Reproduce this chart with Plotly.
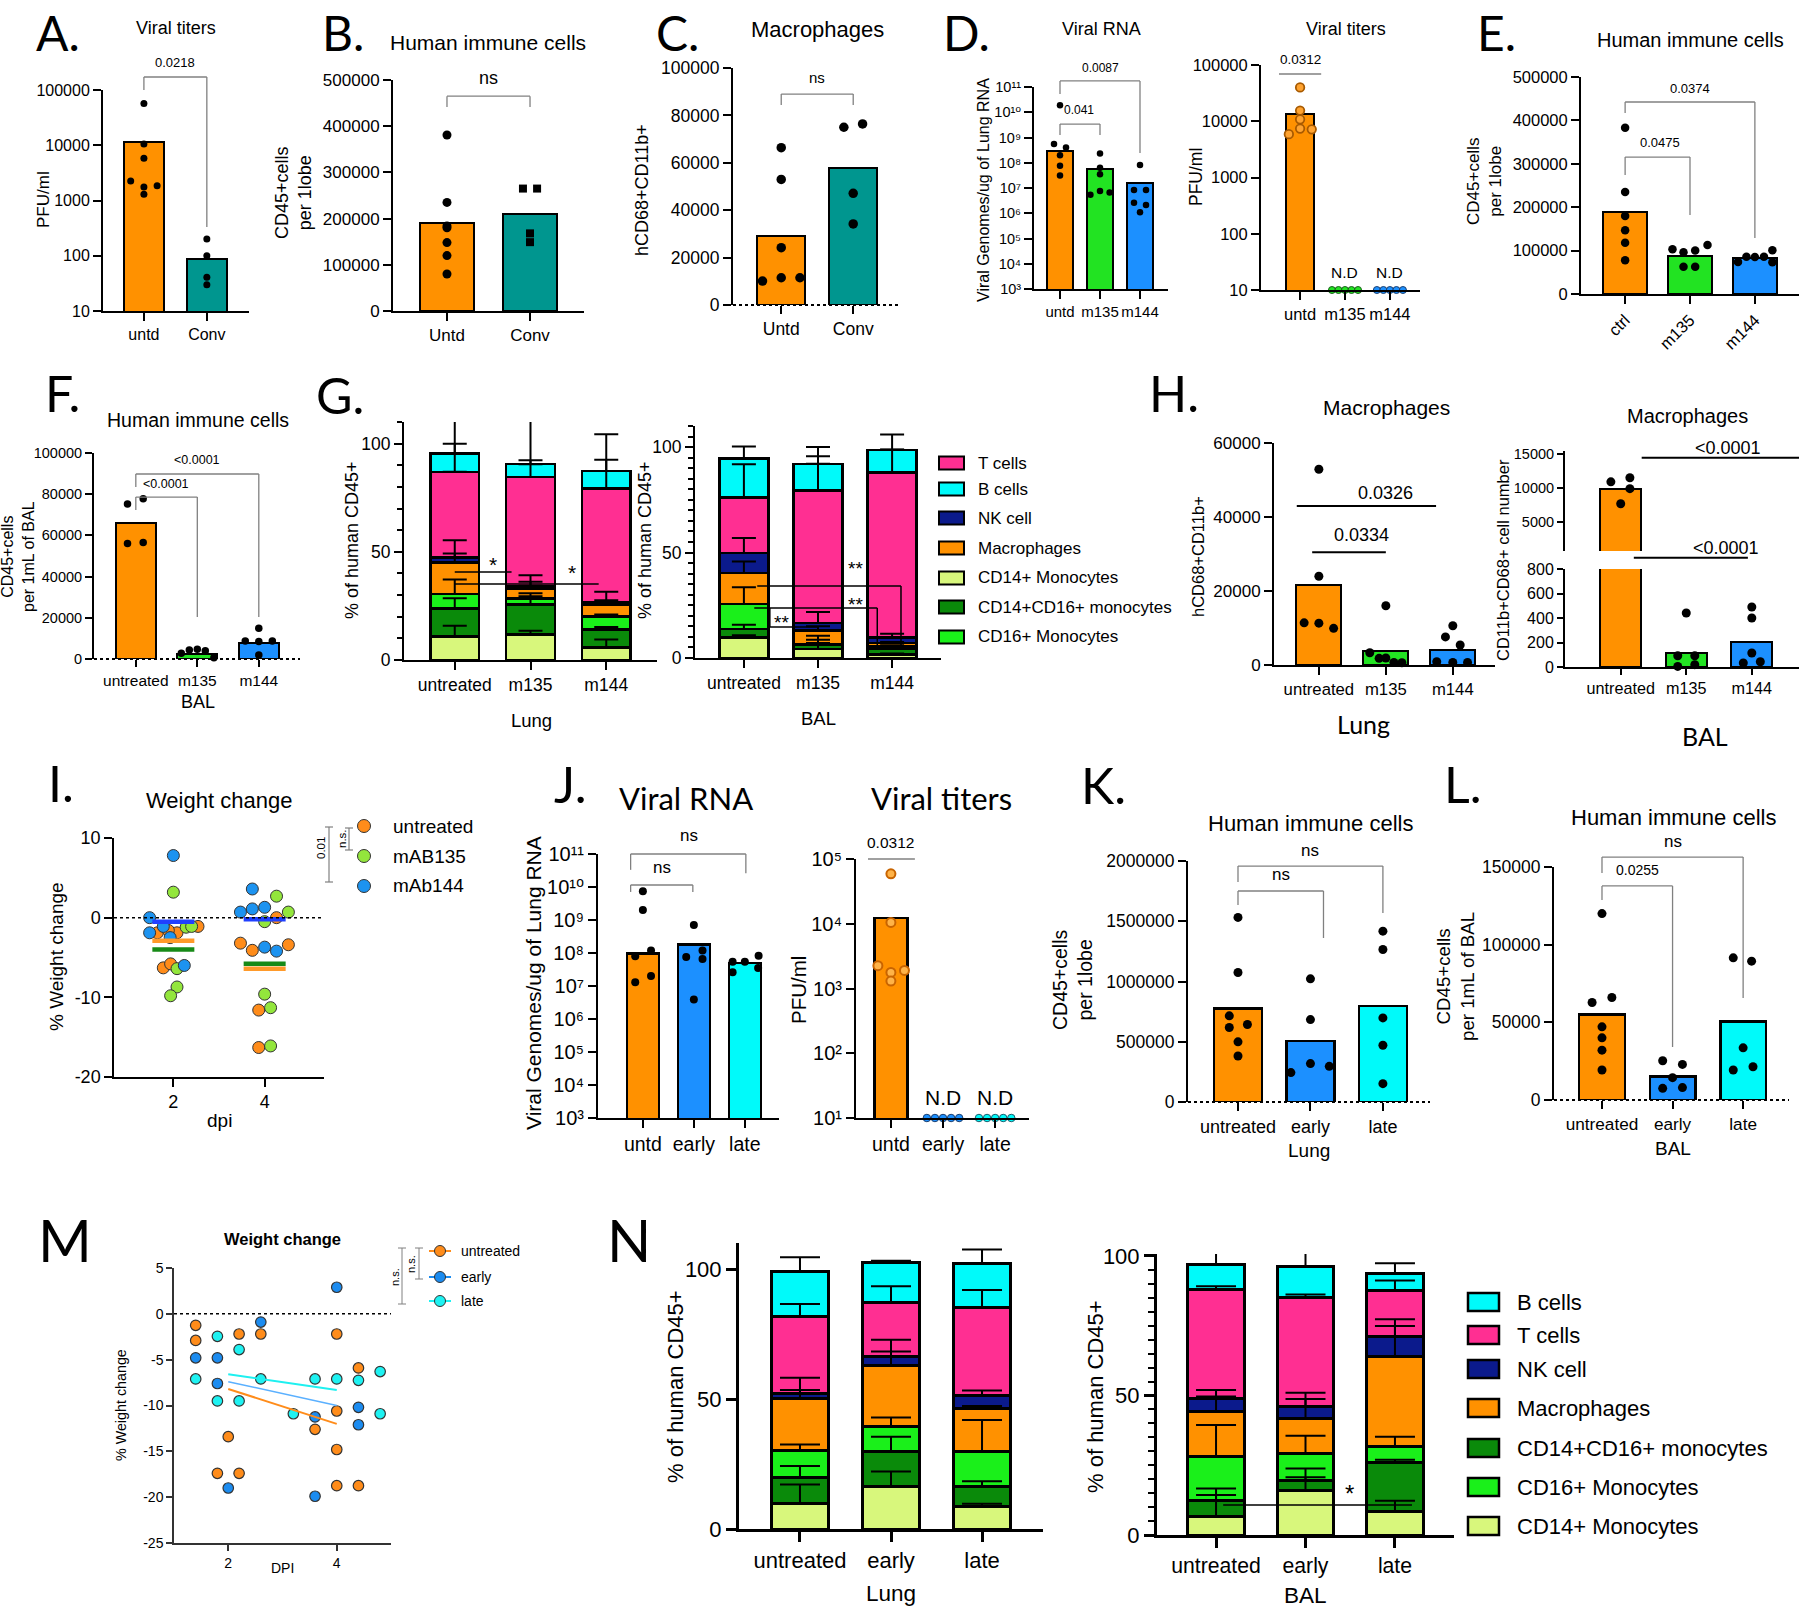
import numpy as np
import plotly.graph_objects as go

W, H = 1800, 1607
ARIAL = "Liberation Sans, Arial, DejaVu Sans, sans-serif"
CAL = "Lato, Open Sans, sans-serif"

ORANGE = "#FF9100"; TEAL = "#00968F"; GREEN = "#22E322"; BLUE = "#1C90FF"; CYAN = "#00FAFA"
PINK = "#FF2F92"; NAVY = "#0B1A8C"; DKGREEN = "#0A8A0A"; LTGREEN = "#D8F77C"; BRGREEN = "#1AF01A"
GRAY = "#808080"
CELL_NAMES = ["CD14+ Monocytes", "CD14+CD16+ monocytes", "CD16+ Monocytes", "Macrophages", "NK cell", "T cells", "B cells"]
CELL_COLORS = [LTGREEN, DKGREEN, BRGREEN, ORANGE, NAVY, PINK, CYAN]

# ---------------- data ----------------
A_cats = ["untd", "Conv"]
A_bar = [11300, 89]
A_untd = [57000, 10500, 5800, 2250, 1750, 1850, 1300]
A_conv = [200, 100, 41, 30]

B_cats = ["Untd", "Conv"]
B_bar = [190000, 209000]
B_untd = [381000, 235000, 184000, 180000, 148000, 120000, 80000]
B_conv = [265000, 265000, 168000, 149000]

C_cats = ["Untd", "Conv"]
C_bar = [29100, 57700]
C_untd = [66400, 53000, 24200, 10100, 11500, 11500]
C_conv = [75000, 76400, 47100, 34200]

D_cats = ["untd", "m135", "m144"]
D_rna_bar = [2.8e8, 5.5e7, 1.6e7]
D_rna_untd = [1.9e10, 5.5e8, 4e8, 2e8, 7.6e7, 3.1e7]
D_rna_m135 = [2.3e8, 6.3e7, 3.5e7, 5.4e6, 7.6e6, 6.6e6]
D_rna_m144 = [8.1e7, 8.3e6, 8.3e6, 2.6e6, 2.1e6, 1.1e6]
D_tit_bar = [13500, None, None]
D_tit_untd = [40000, 15500, 10800, 5900, 7400, 7200]
D_tit_m135 = [10, 10, 10, 10, 10]
D_tit_m144 = [10, 10, 10, 10, 10]

E_cats = ["ctrl", "m135", "m144"]
E_bar = [189000, 87500, 82000]
E_ctrl = [383000, 235000, 180000, 147000, 118000, 78000]
E_m135 = [103000, 96000, 100000, 113000, 63000, 63000]
E_m144 = [74000, 86000, 85000, 86000, 101000, 73000]

F_cats = ["untreated", "m135", "m144"]
F_bar = [66200, 2400, 7900]
F_untr = [75200, 77800, 56100, 56500]
F_m135 = [2750, 4400, 4700, 4000, 650]
F_m144 = [14900, 8700, 8500, 8700, 1900]

G_cats = ["untreated", "m135", "m144"]
# rows: CD14+, CD14+CD16+, CD16+, Macrophages, NK, T, B ; cols: untreated, m135, m144
G_lung_pct = [[10.8, 11.8, 5.8], [13.0, 13.9, 8.4], [6.7, 2.8, 5.8], [14.5, 4.5, 5.4],
              [2.4, 1.3, 1.2], [39.6, 50.3, 52.6], [8.4, 5.9, 8.2]]
G_lung_sd = [[5.0, 1.7, 3.7], [4.7, 5.1, 1.0], [6.7, 1.0, 1.0], [10.4, 3.2, 6.1],
             [1.8, 4.9, 1.0], [13.0, 7.7, 13.4], [16.0, 20.0, 16.9]]
G_bal_pct = [[9.8, 4.3, 1.6], [3.9, 2.0, 2.7], [11.9, 0.3, 1.2], [14.7, 6.5, 1.6],
             [9.5, 3.5, 2.7], [26.3, 62.9, 78.2], [18.4, 12.6, 10.7]]
G_bal_sd = [[1.0, 6.3, 0.5], [2.1, 2.4, 0.5], [7.9, 0.5, 0.5], [5.5, 2.0, 0.5],
            [7.1, 5.2, 1.7], [15.8, 16.1, 10.8], [5.8, 7.9, 7.3]]

H_cats = ["untreated", "m135", "m144"]
H_lung_bar = [21600, 3900, 4050]
H_lung_untr = [52900, 24000, 11400, 11300, 9900]
H_lung_m135 = [16000, 3300, 1800, 1900, 700, 600]
H_lung_m144 = [10600, 7600, 5400, 900, 700, 700]
H_bal_bar = [9900, 114, 204]
H_bal_untr = [10900, 11500, 9900, 7700]
H_bal_m135 = [441, 92, 92, 5, 19]
H_bal_m144 = [490, 400, 114, 33, 43]

I_dpi = [2, 2, 2, 2, 2, 2, 4, 4, 4, 4, 4, 4]
I_untr_wt = [-1.9, -1.9, -1.6, -1.1, -6.3, -5.8, 0.0, -3.2, -4.1, -3.4, -11.6, -16.3]
I_135_wt = [3.2, -1.2, -1.1, -6.4, -8.7, -9.8, 2.7, 0.7, -0.5, -9.6, -11.3, -16.1]
I_144_wt = [0.0, 7.8, -1.9, -1.1, -2.5, -6.0, 3.6, 0.7, 1.1, 1.3, -3.7, -4.2]
I_mean_dpi = [2, 4]
I_mean_untr = [-2.9, -6.4]
I_mean_135 = [-4.0, -5.8]
I_mean_144 = [-0.5, -0.2]

J_cats = ["untd", "early", "late"]
J_rna_bar = [9.5e7, 1.8e8, 5e7]
J_rna_untd = [7.4e9, 2e9, 1.2e8, 8e7, 2e7, 1.3e7]
J_rna_early = [7e8, 1.2e8, 7.6e7, 6.6e7, 3.9e6]
J_rna_late = [5.4e7, 5.4e7, 8.3e7, 2.6e7, 3.5e7]
J_tit_bar = [12200, None, None]
J_tit_untd = [59000, 10500, 2250, 1770, 1900, 1300]
J_tit_early = [10, 10, 10, 10, 10]
J_tit_late = [10, 10, 10, 10, 10]

K_cats = ["untreated", "early", "late"]
K_bar = [776000, 507000, 795000]
K_untr = [1532000, 1075000, 715000, 618000, 643000, 499000, 382000]
K_early = [1022000, 684000, 319000, 296000, 244000]
K_late = [1418000, 1266000, 698000, 471000, 152000]

L_bar = [55100, 15000, 50400]
L_untr = [120000, 66000, 62800, 47100, 40000, 32100, 19300]
L_early = [25300, 22900, 14400, 7500, 8000]
L_late = [91500, 89400, 33600, 19300, 21400]

M_untr_x = [1.4, 1.4, 2.2, 2.6, 2.0, 1.8, 2.2, 4.0, 4.4, 4.0, 3.6, 4.0, 4.0, 4.4]
M_untr_y = [-1.25, -2.9, -2.2, -2.2, -13.4, -17.4, -17.4, -2.2, -5.9, -10.6, -12.6, -14.8, -18.75, -18.75]
M_early_x = [1.4, 1.8, 1.8, 2.6, 2.0, 4.0, 3.6, 4.4, 4.4, 3.6]
M_early_y = [-4.8, -4.8, -7.6, -0.9, -19.0, 2.9, -11.25, -10.2, -12.1, -19.9]
M_late_x = [1.4, 1.8, 2.2, 1.8, 2.2, 2.6, 3.2, 3.6, 4.0, 4.4, 4.8, 4.8]
M_late_y = [-7.1, -2.45, -3.9, -9.5, -9.5, -7.1, -10.9, -7.1, -7.1, -7.25, -6.3, -10.9]
M_fit_dpi = [2, 4]
M_fit_untr = [-8.2, -12.0]
M_fit_early = [-7.4, -10.0]
M_fit_late = [-6.6, -8.3]

N_cats = ["untreated", "early", "late"]
N_lung_pct = [[10.0, 16.2, 8.7], [9.9, 13.6, 7.5], [10.4, 9.8, 13.8], [20.0, 23.1, 16.3],
              [1.9, 3.5, 4.9], [29.4, 20.9, 34.0], [17.5, 15.5, 17.0]]
N_lung_sd = [[7.1, 5.9, 1.0], [4.3, 5.7, 2.2], [2.2, 3.3, 11.9], [3.2, 5.6, 1.0],
             [6.0, 6.6, 2.1], [4.9, 6.3, 6.7], [5.4, 0.6, 5.3]]
N_bal_pct = [[6.6, 15.9, 8.6], [5.9, 3.8, 17.4], [15.6, 9.6, 5.7], [16.1, 12.3, 32.2],
             [4.8, 4.4, 7.2], [39.1, 39.2, 16.4], [9.0, 11.2, 6.1]]
N_bal_sd = [[7.7, 4.8, 3.7], [4.2, 4.1, 1.0], [11.3, 6.3, 3.5], [5.4, 7.1, 11.0],
            [3.0, 5.0, 6.2], [1.0, 1.0, 3.7], [5.0, 5.0, 3.8]]

# ---------------- helpers ----------------
fig = go.Figure()
LAY = dict(width=W, height=H, margin=dict(l=0, r=0, t=0, b=0, autoexpand=False), paper_bgcolor="white",
           plot_bgcolor="rgba(0,0,0,0)", showlegend=False, barmode="stack", autosize=False)
SHAPES, ANNOS = [], []
NAX = [0]
AXI = {}
SUP = str.maketrans("0123456789", "\u2070\u00b9\u00b2\u00b3\u2074\u2075\u2076\u2077\u2078\u2079")


def axes(box, xr, yr, cats=None, xticks=None, ylog=False, yvals=None, ytext=None,
         fs=16, xfs=None, xline=True, xangle=0, yminor=None, lw=2, tlen=8,
         showx=True, color="black"):
    NAX[0] += 1
    s = "" if NAX[0] == 1 else str(NAX[0])
    x0, x1, y0, y1 = box
    AXI["x" + s] = (x0, x1, xr[0], xr[1])
    AXI["y" + s] = (y1, y0, yr[0], yr[1])
    common = dict(showgrid=False, zeroline=False, linecolor=color, linewidth=lw,
                  ticklen=tlen, tickwidth=lw, tickcolor=color, fixedrange=True, automargin=False)
    xa = dict(domain=[x0 / W, x1 / W], range=xr, anchor="y" + s, showline=xline,
              ticks="outside" if showx else "", showticklabels=showx, tickangle=xangle,
              tickfont=dict(family=ARIAL, size=xfs or fs, color="black"), **common)
    if cats is not None:
        xa.update(tickmode="array", tickvals=list(range(len(cats))), ticktext=cats)
    elif xticks is not None:
        xa.update(tickmode="array", tickvals=xticks, ticktext=[str(v) for v in xticks])
    ya = dict(domain=[1 - y1 / H, 1 - y0 / H], range=yr, type="log" if ylog else "linear",
              anchor="x" + s, showline=True, ticks="outside",
              tickfont=dict(family=ARIAL, size=fs, color="black"), **common)
    ya.update(tickmode="array", tickvals=yvals,
              ticktext=ytext if ytext is not None else [str(v) for v in yvals])
    if yminor:
        ya["minor"] = dict(dtick=yminor, tick0=0, ticks="outside", ticklen=tlen * 0.6,
                           tickwidth=lw * 0.75, tickcolor=color)
    LAY["xaxis" + s] = xa
    LAY["yaxis" + s] = ya
    return "x" + s, "y" + s


def PX(xa, v):
    a, b, r0, r1 = AXI[xa]
    return a + (v - r0) / (r1 - r0) * (b - a)


def PY(ya, v):
    a, b, r0, r1 = AXI[ya]  # a = bottom pixel, b = top pixel ; log axes take log10 units
    return a + (v - r0) / (r1 - r0) * (b - a)


def bars(xa, ya, vals, colors, width, lw=2):
    fig.add_trace(go.Bar(x=list(range(len(vals))), y=vals, width=width,
                         marker=dict(color=colors, line=dict(color="black", width=lw)),
                         xaxis=xa, yaxis=ya, hoverinfo="skip"))


def dots(xa, ya, gi, vals, jit=None, color="black", size=8, symbol="circle", lc="black", lw=0, clip=False):
    jit = jit if jit is not None else [0.0] * len(vals)
    fig.add_trace(go.Scatter(x=[gi + j for j in jit], y=vals, mode="markers",
                             marker=dict(color=color, size=size, symbol=symbol, line=dict(color=lc, width=lw)),
                             xaxis=xa, yaxis=ya, cliponaxis=clip, hoverinfo="skip"))


def ptext(px, py, text, size, family=ARIAL, anchor="center", angle=0, color="black"):
    ANNOS.append(dict(xref="paper", yref="paper", x=px / W, y=1 - py / H, text=text, showarrow=False,
                      font=dict(family=family, size=size, color=color), xanchor=anchor,
                      yanchor="middle", textangle=angle))


def prect(x0, y0, x1, y1, fill, lw=2, lc="black"):
    SHAPES.append(dict(type="rect", xref="paper", yref="paper", x0=x0 / W, x1=x1 / W,
                       y0=1 - y1 / H, y1=1 - y0 / H, fillcolor=fill, line=dict(color=lc, width=lw)))


def pcirc(cx, cy, r, fill, lc="#333", lw=1):
    SHAPES.append(dict(type="circle", xref="paper", yref="paper", x0=(cx - r) / W, x1=(cx + r) / W,
                       y0=1 - (cy + r) / H, y1=1 - (cy - r) / H, fillcolor=fill, line=dict(color=lc, width=lw)))


def pline(x0, y0, x1, y1, color="black", w=1, dash="solid"):
    SHAPES.append(dict(type="line", xref="paper", yref="paper", x0=x0 / W, x1=x1 / W,
                       y0=1 - y0 / H, y1=1 - y1 / H, line=dict(color=color, width=w, dash=dash)))


def seg(xa, ya, x0, y0, x1, y1, color=GRAY, w=1.3, dash="solid"):
    pline(PX(xa, x0), PY(ya, y0), PX(xa, x1), PY(ya, y1), color, w, dash)


def path(xa, ya, pts, color="black", w=1.5):
    for (a, b), (c, d) in zip(pts[:-1], pts[1:]):
        seg(xa, ya, a, b, c, d, color, w)


def bracket(xa, ya, x0, x1, ytop, yl, yr, color=GRAY, w=1.3):
    path(xa, ya, [(x0, yl), (x0, ytop), (x1, ytop), (x1, yr)], color, w)


def atext(xa, ya, x, y, text, size, family=ARIAL, color="black"):
    ptext(PX(xa, x), PY(ya, y), text, size, family=family, color=color)


def stacked(xa, ya, pct, sd, width, cap, lw=2.5, ew=2):
    pct = np.asarray(pct, float)
    sd = np.asarray(sd, float)
    tops = np.cumsum(pct, axis=0)
    for k in range(len(pct)):
        fig.add_trace(go.Bar(x=[0, 1, 2], y=pct[k], width=width,
                             marker=dict(color=CELL_COLORS[k], line=dict(color="black", width=lw)),
                             xaxis=xa, yaxis=ya, hoverinfo="skip"))
    for k in range(len(pct)):
        fig.add_trace(go.Scatter(x=[0, 1, 2], y=tops[k], mode="markers",
                                 marker=dict(size=1, color="rgba(0,0,0,0)"),
                                 error_y=dict(type="data", symmetric=False, array=sd[k], arrayminus=[0, 0, 0],
                                              color="black", thickness=ew, width=cap),
                                 xaxis=xa, yaxis=ya, hoverinfo="skip"))


LOG_T = lambda lo, hi: ([10 ** k for k in range(lo, hi + 1)], ["10" + str(k).translate(SUP) for k in range(lo, hi + 1)])
LOG_N = lambda lo, hi: ([10 ** k for k in range(lo, hi + 1)], [str(10 ** k) for k in range(lo, hi + 1)])

# ---------------- A ----------------
tv, tt = LOG_N(1, 5)
xa, ya = axes((103, 249, 90, 311), [-0.65, 1.67], [1, 5], cats=A_cats, ylog=True, yvals=tv, ytext=tt, fs=16)
bars(xa, ya, A_bar, [ORANGE, TEAL], 0.63)
dots(xa, ya, 0, A_untd, [0, 0, 0, -0.21, 0, 0.21, 0], size=7)
dots(xa, ya, 1, A_conv, size=7)
bracket(xa, ya, 0, 1, 5.235, 5.0, 2.52)
atext(xa, ya, 0.5, 5.49, "0.0218", 13)

# ---------------- B ----------------
xa, ya = axes((393, 584, 80, 311), [-0.65, 1.65], [0, 500000], cats=B_cats,
              yvals=[0, 100000, 200000, 300000, 400000, 500000], fs=17)
bars(xa, ya, B_bar, [ORANGE, TEAL], 0.64)
dots(xa, ya, 0, B_untd, size=9)
dots(xa, ya, 1, B_conv, [-0.085, 0.085, 0, 0], size=8, symbol="square")
bracket(xa, ya, 0, 1, 465000, 441500, 441500)
atext(xa, ya, 0.5, 504000, "ns", 18)

# ---------------- C ----------------
xa, ya = axes((733, 900, 68, 305), [-0.67, 1.65], [0, 100000], cats=C_cats,
              yvals=[0, 20000, 40000, 60000, 80000, 100000], fs=17.5, xline=False)
bars(xa, ya, C_bar, [ORANGE, TEAL], 0.66)
seg(xa, ya, -0.67, 0, 1.65, 0, "black", 2, "dot")
dots(xa, ya, 0, C_untd, [0, 0, 0, -0.26, 0, 0.26], size=9.5)
dots(xa, ya, 1, C_conv, [-0.13, 0.13, 0, 0], size=9.5)
bracket(xa, ya, 0, 1, 89000, 84400, 84400)
atext(xa, ya, 0.5, 95800, "ns", 15)

# ---------------- D viral RNA ----------------
tv, tt = LOG_T(3, 11)
xa, ya = axes((1034, 1168, 87, 289), [-0.65, 2.7], [3, 11], cats=D_cats, ylog=True, yvals=tv, ytext=tt,
              fs=14.5, xfs=15)
bars(xa, ya, D_rna_bar, [ORANGE, GREEN, BLUE], 0.64)
dots(xa, ya, 0, D_rna_untd, [0, -0.15, 0.15, 0, 0, 0], size=6.5)
dots(xa, ya, 1, D_rna_m135, [0, 0, 0, -0.24, 0, 0.24], size=6.5)
dots(xa, ya, 2, D_rna_m144, [0, -0.15, 0.15, -0.15, 0.15, 0], size=6.5)
bracket(xa, ya, 0, 2, 11.24, 10.72, 8.39)
atext(xa, ya, 1, 11.75, "0.0087", 12)
bracket(xa, ya, 0, 1, 9.53, 9.1, 9.1)
atext(xa, ya, 0.48, 10.09, "0.041", 12)

# ---------------- D viral titers ----------------
tv, tt = LOG_N(1, 5)
xa, ya = axes((1261, 1420, 65, 290), [-0.87, 2.67], [1, 5], cats=D_cats, ylog=True, yvals=tv, ytext=tt,
              fs=16.5, xfs=16.5)
bars(xa, ya, D_tit_bar, [ORANGE, ORANGE, ORANGE], 0.62)
dots(xa, ya, 0, D_tit_untd, [0, 0, 0, -0.25, 0, 0.26], color="#FFA330", size=8.5, lc="#A85A00", lw=1.8)
ND_JIT = [-0.29, -0.145, 0, 0.145, 0.29]
dots(xa, ya, 1, D_tit_m135, ND_JIT, color=GREEN, size=7, lc="#1B5E1B", lw=1)
dots(xa, ya, 2, D_tit_m144, ND_JIT, color=BLUE, size=7, lc="#1B3E6E", lw=1)
seg(xa, ya, -0.47, 4.84, 0.47, 4.84)
atext(xa, ya, 0, 5.09, "0.0312", 13.5)
atext(xa, ya, 1, 1.32, "N.D", 15.5)
atext(xa, ya, 2, 1.32, "N.D", 15.5)

# ---------------- E ----------------
xa, ya = axes((1581, 1799, 77, 294), [-0.68, 2.68], [0, 500000], cats=E_cats,
              yvals=[0, 100000, 200000, 300000, 400000, 500000], fs=16.5, xangle=-45)
bars(xa, ya, E_bar, [ORANGE, GREEN, BLUE], 0.67)
dots(xa, ya, 0, E_ctrl, size=8.5)
dots(xa, ya, 1, E_m135, [-0.27, -0.1, 0.08, 0.27, -0.1, 0.08], size=8.5)
dots(xa, ya, 2, E_m144, [-0.26, -0.13, 0, 0.14, 0.27, 0.27], size=8.5)
bracket(xa, ya, 0, 2, 442400, 417000, 129000)
atext(xa, ya, 1, 474600, "0.0374", 13)
bracket(xa, ya, 0, 1, 315600, 274000, 182000)
atext(xa, ya, 0.54, 348000, "0.0475", 13)

# ---------------- F ----------------
xa, ya = axes((94, 300, 453, 659), [-0.68, 2.67], [0, 100000], cats=F_cats,
              yvals=[0, 20000, 40000, 60000, 80000, 100000], fs=14.5, xfs=15.5, xline=False, tlen=7)
bars(xa, ya, F_bar, [ORANGE, GREEN, BLUE], 0.65)
seg(xa, ya, -0.68, 0, 2.67, 0, "black", 2, "dot")
dots(xa, ya, 0, F_untr, [-0.135, 0.12, -0.135, 0.12], size=7.5)
dots(xa, ya, 1, F_m135, [-0.26, -0.13, 0, 0.13, 0.27], size=7.5)
dots(xa, ya, 2, F_m144, [0, -0.22, 0, 0.22, 0], size=7.5)
bracket(xa, ya, 0, 2, 89800, 83500, 20400)
atext(xa, ya, 0.99, 96600, "&lt;0.0001", 12.5)
bracket(xa, ya, 0, 1, 78600, 72300, 20400)
atext(xa, ya, 0.49, 85000, "&lt;0.0001", 12.5)

# ---------------- G lung ----------------
xa, ya = axes((404, 657, 422, 660), [-0.67, 2.67], [0, 110], cats=G_cats, yvals=[0, 50, 100],
              fs=17.5, yminor=10)
stacked(xa, ya, G_lung_pct, G_lung_sd, 0.645, 12)
seg(xa, ya, 0, 40.7, 0.75, 40.7, "black", 1.5)
atext(xa, ya, 0.51, 44.0, "*", 21)
seg(xa, ya, 0, 35.1, 1.9, 35.1, "black", 1.5)
atext(xa, ya, 1.55, 40.5, "*", 21)

# ---------------- G BAL ----------------
xa, ya = axes((695, 941, 426, 658), [-0.66, 2.66], [0, 110], cats=G_cats, yvals=[0, 50, 100],
              fs=17.5, yminor=5)
stacked(xa, ya, G_bal_pct, G_bal_sd, 0.66, 12)
path(xa, ya, [(0.18, 34.1), (2.12, 34.1), (2.12, 5.2)])
path(xa, ya, [(0.14, 23.7), (1.8, 23.7), (1.8, 5.2)])
path(xa, ya, [(0.35, 23.7), (0.35, 14.7), (1.0, 14.7)])
atext(xa, ya, 1.51, 42.5, "**", 19)
atext(xa, ya, 1.51, 25.5, "**", 19)
atext(xa, ya, 0.51, 17.0, "**", 19)

# G legend
for r, k in zip([463, 489, 518, 548, 578, 607, 637], [5, 6, 4, 3, 0, 1, 2]):
    prect(939, r - 6.5, 964, r + 6.5, CELL_COLORS[k])
    ptext(976, r, CELL_NAMES[k], 17, anchor="left")

# ---------------- H lung ----------------
xa, ya = axes((1274, 1495, 443, 665), [-0.67, 2.63], [0, 60000], cats=H_cats,
              yvals=[0, 20000, 40000, 60000], fs=17, xfs=16.7)
bars(xa, ya, H_lung_bar, [ORANGE, GREEN, BLUE], 0.67)
dots(xa, ya, 0, H_lung_untr, [0, 0, -0.22, 0, 0.22], size=9)
dots(xa, ya, 1, H_lung_m135, [0, -0.24, -0.1, 0.0, 0.12, 0.24], size=9)
dots(xa, ya, 2, H_lung_m144, [0, -0.11, 0.11, -0.24, 0, 0.22], size=9)
seg(xa, ya, -0.33, 43000, 1.75, 43000, "black", 2)
atext(xa, ya, 1.0, 46500, "0.0326", 18)
seg(xa, ya, -0.1, 30500, 1.0, 30500, "black", 2)
atext(xa, ya, 0.63, 35100, "0.0334", 18)

# ---------------- H BAL (broken axis) ----------------
xa, ya = axes((1565, 1799, 451, 551), [-0.85, 2.72], [800, 15400], yvals=[5000, 10000, 15000],
              fs=14.5, xline=False, showx=False, tlen=6)
bars(xa, ya, H_bal_bar, [ORANGE, GREEN, BLUE], 0.63)
dots(xa, ya, 0, [v for v in H_bal_untr if v >= 800], [-0.15, 0.14, 0.14, 0], size=9)
seg(xa, ya, 0.32, 14420, 2.72, 14420, "black", 2)
atext(xa, ya, 1.63, 15860, "&lt;0.0001", 18)
xa, ya = axes((1565, 1799, 569, 667), [-0.85, 2.72], [0, 800], cats=H_cats,
              yvals=[0, 200, 400, 600, 800], fs=16, xfs=16.2, tlen=6)
bars(xa, ya, H_bal_bar, [ORANGE, GREEN, BLUE], 0.63)
dots(xa, ya, 1, H_bal_m135, [0, -0.13, 0.13, -0.13, 0.13], size=9)
dots(xa, ya, 2, H_bal_m144, [0, 0, 0, -0.13, 0.13], size=9)
seg(xa, ya, 0.2, 892, 1.94, 892, "black", 2)
atext(xa, ya, 1.6, 974, "&lt;0.0001", 18)

# ---------------- I ----------------
xa, ya = axes((114, 324, 838, 1077), [0.7, 5.3], [-20, 10], xticks=[2, 4], yvals=[-20, -10, 0, 10],
              ytext=["-20", "-10", "0", "10"], fs=18, lw=1.5)
seg(xa, ya, 0.7, 0, 5.3, 0, "black", 1.5, "dot")
I_untr_jit = [-0.35, 0.08, -0.11, 0.54, -0.22, -0.06, 0.26, -0.53, -0.27, 0.52, -0.13, -0.13]
I_135_jit = [0, 0.28, 0.4, 0.08, 0.08, -0.06, 0.26, 0.52, 0, 0, 0.13, 0.13]
I_144_jit = [-0.52, 0, -0.52, -0.22, -0.07, 0.24, -0.27, -0.53, -0.27, 0, 0, 0.26]
for wt, jit, col in [(I_untr_wt, I_untr_jit, "#FF8C1A"), (I_135_wt, I_135_jit, "#93E63C"),
                     (I_144_wt, I_144_jit, "#1C93F0")]:
    fig.add_trace(go.Scatter(x=[d + j for d, j in zip(I_dpi, jit)], y=wt, mode="markers",
                             marker=dict(color=col, size=12, line=dict(color="#333", width=1)),
                             xaxis=xa, yaxis=ya, cliponaxis=False, hoverinfo="skip"))
for mv, col in [(I_mean_untr, "#FF9A2A"), (I_mean_135, "#178A17"), (I_mean_144, "#2040FF")]:
    fig.add_trace(go.Scatter(x=I_mean_dpi, y=mv, mode="markers",
                             marker=dict(symbol="line-ew", size=30, line=dict(color=col, width=4.5)),
                             xaxis=xa, yaxis=ya, hoverinfo="skip"))
for r, lab, col in [(826, "untreated", "#FF8C1A"), (856, "mAB135", "#93E63C"), (886, "mAb144", "#1C93F0")]:
    pcirc(364, r, 6.5, col)
    ptext(391, r, lab, 19, anchor="left")
pline(329, 827, 329, 882, GRAY, 1.2); pline(325, 827, 333, 827, GRAY, 1.2); pline(325, 882, 333, 882, GRAY, 1.2)
pline(349, 828, 349, 850, GRAY, 1.2); pline(345, 828, 353, 828, GRAY, 1.2); pline(345, 850, 353, 850, GRAY, 1.2)
ptext(321, 848, "0.01", 11.5, angle=-90)
ptext(342, 839, "n.s.", 11.5, angle=-90)

# ---------------- J viral RNA ----------------
tv, tt = LOG_T(3, 11)
xa, ya = axes((598, 779, 854, 1118), [-0.88, 2.67], [3, 11], cats=J_cats, ylog=True, yvals=tv, ytext=tt,
              fs=20, xfs=19.5)
bars(xa, ya, J_rna_bar, [ORANGE, BLUE, CYAN], 0.63, lw=2.5)
dots(xa, ya, 0, J_rna_untd, [0, 0, 0.16, -0.15, 0.16, -0.15], size=8)
dots(xa, ya, 1, J_rna_early, [0, 0.17, -0.15, 0.17, 0], size=8)
dots(xa, ya, 2, J_rna_late, [-0.24, 0, 0.27, -0.24, 0.26], size=8)
bracket(xa, ya, -0.24, 2.02, 11.0, 10.52, 10.42)
atext(xa, ya, 0.9, 11.55, "ns", 17)
bracket(xa, ya, -0.24, 0.98, 10.06, 9.85, 9.85)
atext(xa, ya, 0.37, 10.6, "ns", 17)

# ---------------- J viral titers ----------------
tv, tt = LOG_T(1, 5)
xa, ya = axes((856, 1029, 859, 1118), [-0.67, 2.65], [1, 5], cats=J_cats, ylog=True, yvals=tv, ytext=tt,
              fs=20, xfs=19.5)
bars(xa, ya, J_tit_bar, [ORANGE, ORANGE, ORANGE], 0.63, lw=2.5)
dots(xa, ya, 0, J_tit_untd, [0, 0, -0.25, 0, 0.26, 0], color="#FFB347", size=9, lc="#C86400", lw=2)
ND_JIT2 = [-0.31, -0.155, 0, 0.155, 0.31]
dots(xa, ya, 1, J_tit_early, ND_JIT2, color=BLUE, size=7.5, lc="#1B3E6E", lw=1)
dots(xa, ya, 2, J_tit_late, ND_JIT2, color=CYAN, size=7.5, lc="#1B5E6E", lw=1)
seg(xa, ya, -0.44, 5.0, 0.46, 5.0)
atext(xa, ya, 0, 5.26, "0.0312", 15.5)
atext(xa, ya, 1, 1.31, "N.D", 21)
atext(xa, ya, 2, 1.31, "N.D", 21)

# ---------------- K ----------------
xa, ya = axes((1188, 1430, 861, 1102), [-0.69, 2.65], [0, 2000000], cats=K_cats,
              yvals=[0, 500000, 1000000, 1500000, 2000000], fs=17.5, xfs=18, xline=False)
bars(xa, ya, K_bar, [ORANGE, BLUE, CYAN], 0.66, lw=2.5)
seg(xa, ya, -0.69, 0, 2.65, 0, "black", 2, "dot")
dots(xa, ya, 0, K_untr, [0, 0, -0.12, -0.12, 0.13, 0, 0], size=9)
dots(xa, ya, 1, K_early, [0, 0, 0, 0.26, -0.27], size=9)
dots(xa, ya, 2, K_late, size=9)
bracket(xa, ya, 0, 2, 1958000, 1826000, 1568000)
atext(xa, ya, 1, 2091000, "ns", 17)
bracket(xa, ya, 0, 1.18, 1751000, 1635000, 1361000)
atext(xa, ya, 0.59, 1884000, "ns", 17)

# ---------------- L ----------------
xa, ya = axes((1554, 1789, 867, 1100), [-0.68, 2.65], [0, 150000], cats=K_cats,
              yvals=[0, 50000, 100000, 150000], fs=17.5, xfs=17.2, xline=False)
bars(xa, ya, L_bar, [ORANGE, BLUE, CYAN], 0.645, lw=2.5)
seg(xa, ya, -0.68, 0, 2.65, 0, "black", 2, "dot")
dots(xa, ya, 0, L_untr, [0, 0.14, -0.14, 0, 0, 0, 0], size=9)
dots(xa, ya, 1, L_early, [-0.14, 0.14, 0, -0.14, 0.14], size=9)
dots(xa, ya, 2, L_late, [-0.14, 0.12, 0, -0.14, 0.14], size=9)
bracket(xa, ya, 0, 2, 156400, 146100, 65700)
atext(xa, ya, 1, 166700, "ns", 17)
bracket(xa, ya, 0, 1, 137800, 128800, 34100)
atext(xa, ya, 0.5, 148100, "0.0255", 14)

# ---------------- M ----------------
xa, ya = axes((174, 391, 1268, 1543), [1, 5], [-25, 5], xticks=[2, 4],
              yvals=[-25, -20, -15, -10, -5, 0, 5], ytext=["-25", "-20", "-15", "-10", "-5", "0", "5"],
              fs=14, lw=1.5, tlen=6, color="#333")
seg(xa, ya, 1, 0, 5, 0, "black", 1.5, "dot")
for mx, my, col in [(M_untr_x, M_untr_y, "#FF8C1A"), (M_early_x, M_early_y, "#1C8CF0"),
                    (M_late_x, M_late_y, "#1EF2F2")]:
    fig.add_trace(go.Scatter(x=mx, y=my, mode="markers",
                             marker=dict(color=col, size=10.5, line=dict(color="#333", width=1.2)),
                             xaxis=xa, yaxis=ya, cliponaxis=False, hoverinfo="skip"))
for fy, col, w in [(M_fit_untr, "#FF8C1A", 2), (M_fit_early, "#5AB0FF", 1.5), (M_fit_late, "#1EF0F0", 2)]:
    fig.add_trace(go.Scatter(x=M_fit_dpi, y=fy, mode="lines", line=dict(color=col, width=w),
                             xaxis=xa, yaxis=ya, hoverinfo="skip"))
for r, lab, col in [(1251, "untreated", "#FF8C1A"), (1277, "early", "#1C8CF0"), (1301, "late", "#1EF2F2")]:
    pline(429, r, 451, r, col, 2)
    pcirc(440, r, 5.5, col)
    ptext(459, r, lab, 14, anchor="left")
pline(402, 1248, 402, 1304, GRAY, 1); pline(398, 1248, 406, 1248, GRAY, 1); pline(398, 1304, 406, 1304, GRAY, 1)
pline(419, 1248, 419, 1279, GRAY, 1); pline(415, 1248, 423, 1248, GRAY, 1); pline(415, 1279, 423, 1279, GRAY, 1)
ptext(395, 1277, "n.s.", 11, angle=-90)
ptext(411, 1264, "n.s.", 11, angle=-90)

# ---------------- N lung ----------------
xa, ya = axes((739, 1043, 1243, 1529), [-0.67, 2.67], [0, 110], cats=N_cats, yvals=[0, 50, 100],
              fs=22, lw=3, tlen=10)
stacked(xa, ya, N_lung_pct, N_lung_sd, 0.63, 20, lw=3)

# ---------------- N BAL ----------------
xa, ya = axes((1157, 1454, 1254, 1535), [-0.66, 2.66], [0, 100.7], cats=N_cats, yvals=[0, 50, 100],
              fs=22, xfs=21.2, lw=3, tlen=10, yminor=5)
stacked(xa, ya, N_bal_pct, N_bal_sd, 0.63, 20, lw=3)
seg(xa, ya, 0.08, 10.75, 2.19, 10.75, "black", 1.3)
atext(xa, ya, 1.49, 15.0, "*", 24)

for r, k in zip([1302, 1335, 1369, 1408, 1448, 1487, 1526], [6, 5, 4, 3, 1, 2, 0]):
    prect(1468, r - 9, 1499, r + 9, CELL_COLORS[k], lw=2.5)
    ptext(1515, r, CELL_NAMES[k], 22, anchor="left")

# ---------------- panel letters ----------------
for t, x, y, s in [("A.", 34, 32, 48), ("B.", 320, 32, 48), ("C.", 654, 32, 48), ("D.", 941, 32, 48),
                   ("E.", 1475, 32, 48), ("F.", 43, 393, 50), ("G.", 314, 395, 50), ("H.", 1147, 393, 50),
                   ("I.", 46, 783, 50), ("J.", 552, 784, 50), ("K.", 1079, 785, 50), ("L.", 1442, 784, 50),
                   ("M", 36, 1239, 58), ("N", 605, 1239, 58)]:
    ptext(x, y, t, s, family=CAL, anchor="left")

# ---------------- titles ----------------
for t, x, y, s, fam in [("Viral titers", 176, 28, 18, ARIAL), ("Human immune cells", 488, 43, 21, ARIAL),
                        ("Macrophages", 817, 30, 22, ARIAL), ("Viral RNA", 1101, 29, 18, ARIAL),
                        ("Viral titers", 1346, 29, 18, ARIAL), ("Human immune cells", 1690, 40, 20, ARIAL),
                        ("Human immune cells", 198, 420, 19.5, ARIAL), ("Macrophages", 1386, 407, 21, ARIAL),
                        ("Macrophages", 1687, 416, 20, ARIAL), ("Weight change", 219, 800, 22, ARIAL),
                        ("Viral RNA", 686, 798, 31, CAL), ("Viral titers", 941, 798, 31, CAL),
                        ("Human immune cells", 1310, 823, 22, ARIAL), ("Human immune cells", 1673, 817, 22, ARIAL),
                        ("<b>Weight change</b>", 282, 1239, 16.5, ARIAL)]:
    ptext(x, y, t, s, family=fam)

# ---------------- axis titles ----------------
for t, x, y, s in [("PFU/ml", 43, 200, 17), ("CD45+cells<br>per 1lobe", 293, 193, 18),
                   ("hCD68+CD11b+", 642, 190, 18), ("Viral Genomes/ug of Lung RNA", 983, 190, 16),
                   ("PFU/ml", 1196, 177, 17.5), ("CD45+cells<br>per 1lobe", 1485, 182, 17),
                   ("CD45+cells<br>per 1mL of BAL", 18, 557, 16), ("% of human CD45+", 352, 540, 18),
                   ("% of human CD45+", 645, 540, 18), ("hCD68+CD11b+", 1198, 557, 16.5),
                   ("CD11b+CD68+ cell number", 1503, 560, 16.5), ("% Weight change", 57, 957, 19),
                   ("Viral Genomes/ug of Lung RNA", 534, 983, 21), ("PFU/ml", 798, 990, 20.5),
                   ("CD45+cells<br>per 1lobe", 1073, 980, 19.5), ("CD45+cells<br>per 1mL of BAL", 1455, 977, 18.7),
                   ("% Weight change", 121, 1405, 14.3), ("% of human CD45+", 675, 1387, 22),
                   ("% of human CD45+", 1095, 1397, 22)]:
    ptext(x, y, t, s, angle=-90)

for t, x, y, s, fam in [("BAL", 198, 702, 18, ARIAL), ("Lung", 531, 720, 18.5, ARIAL), ("BAL", 818, 718, 18.5, ARIAL),
                        ("Lung", 1363, 724, 25, CAL), ("BAL", 1705, 736, 25, CAL), ("dpi", 219, 1120, 19, ARIAL),
                        ("Lung", 1309, 1150, 19, ARIAL), ("BAL", 1673, 1148, 19, ARIAL), ("DPI", 282, 1568, 14, ARIAL),
                        ("Lung", 891, 1593, 22.5, ARIAL), ("BAL", 1305, 1595, 22.5, ARIAL)]:
    ptext(x, y, t, s, family=fam)

LAY["shapes"] = SHAPES
LAY["annotations"] = ANNOS
fig.update_layout(**LAY)
fig.write_html("out.html", config={"displayModeBar": False},
               post_script="document.body.style.margin='0px';")
